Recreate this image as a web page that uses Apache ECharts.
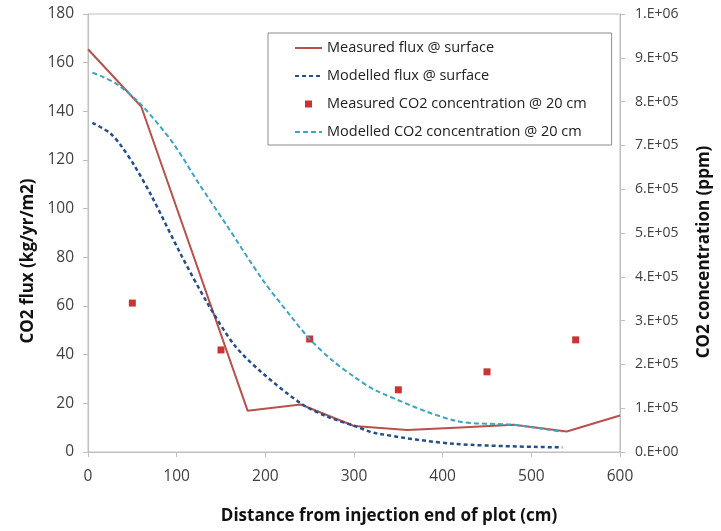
<!DOCTYPE html>
<html>
<head>
<meta charset="utf-8">
<script src="https://cdn.jsdelivr.net/npm/echarts@6/dist/echarts.min.js"></script>
<style>
  html, body { margin: 0; padding: 0; background: #fff; }
  #chart { width: 721px; height: 531px; }
</style>
</head>
<body>
<div id="chart"></div>
<script>
// measured flux at surface (kg/yr/m2)
const measFluxX = [0, 60, 180, 240, 300, 360, 420, 480, 540, 600];
const measFluxY = [165.5, 142, 17, 19.5, 10.7, 9, 10.1, 11.2, 8.4, 15];

// modelled flux at surface
const modFluxX = [5, 25, 38, 53, 72, 105, 135, 165, 195, 240, 270, 300, 325, 415, 535];
const modFluxY = [135.3, 131, 125.5, 117.3, 105, 81, 61, 44, 33, 20, 14.5, 10.8, 7.7, 3.3, 1.9];

// measured CO2 concentration @ 20 cm (ppm)
const measConcX = [50, 150, 250, 350, 450, 550];
const measConcY = [340000, 233000, 258000, 142000, 183000, 256000];

// modelled CO2 concentration @ 20 cm
const modConcX = [5, 15, 34, 60, 96, 125, 155, 197, 228, 250, 275, 300, 325, 415, 480, 535];
const modConcY = [866000, 858000, 838000, 793000, 705000, 613000, 522000, 393000, 312000, 258000, 210000, 172000, 140000, 71000, 62000, 46000];

const legendNames = [
  'Measured flux @ surface',
  'Modelled flux @ surface',
  'Measured CO2 concentration @ 20 cm',
  'Modelled CO2 concentration @ 20 cm'
];

const pairs = (xs, ys) => xs.map((x, i) => [x, ys[i]]);

const sciLabel = (v) => {
  if (v === 0) return '0.E+00';
  const exp = Math.floor(Math.log10(v) + 1e-9);
  const m = Math.round(v / Math.pow(10, exp));
  return m + '.E+' + String(exp).padStart(2, '0');
};

const FONT = 'Open Sans';
const axisGray = '#bfbfbf';
// line legend items: hide the circle drawn on top of the line icon
const noDot = { opacity: 0 };

const chart = echarts.init(document.getElementById('chart'));
chart.setOption({
  animation: false,
  textStyle: { fontFamily: FONT },
  grid: {
    left: 88, right: 100, top: 14, bottom: 79,
    show: true, borderColor: axisGray, borderWidth: 1
  },
  legend: {
    orient: 'vertical',
    left: 268, top: 33,
    padding: [7, 25, 5, 26],
    itemGap: 12,
    itemWidth: 27, itemHeight: 14,
    borderColor: '#8c8c8c', borderWidth: 1,
    textStyle: { fontFamily: FONT, fontSize: 14.5, lineHeight: 16, color: '#222' },
    data: [
      { name: legendNames[0], itemStyle: noDot },
      { name: legendNames[1], itemStyle: noDot },
      { name: legendNames[2], icon: 'path://M0,0 M27,14 M10,3.5 h7 v7 h-7 Z', itemStyle: { color: '#c00000' } },
      { name: legendNames[3], itemStyle: noDot }
    ]
  },
  xAxis: {
    type: 'value', min: 0, max: 600, interval: 100,
    name: 'Distance from injection end of plot (cm)',
    nameLocation: 'middle', nameGap: 56,
    nameTextStyle: { fontFamily: FONT, fontSize: 17, fontWeight: 'bold', color: '#111', padding: [0, 0, 0, 70] },
    axisLine: { lineStyle: { color: axisGray } },
    axisTick: { show: true, length: 5, lineStyle: { color: axisGray } },
    axisLabel: { color: '#404040', fontSize: 15.5, margin: 17 },
    splitLine: { show: false }
  },
  yAxis: [
    {
      type: 'value', min: 0, max: 180, interval: 20,
      name: 'CO2 flux (kg/yr/m2)',
      nameLocation: 'middle', nameGap: 51, nameRotate: 90,
      nameTextStyle: { fontFamily: FONT, fontSize: 17, fontWeight: 'bold', color: '#111', padding: [0, 56, 0, 0] },
      axisLine: { show: true, lineStyle: { color: axisGray } },
      axisTick: { show: true, length: 5, lineStyle: { color: axisGray } },
      axisLabel: { color: '#404040', fontSize: 15.5, margin: 14 },
      splitLine: { show: false }
    },
    {
      type: 'value', min: 0, max: 1000000, interval: 100000,
      position: 'right',
      name: 'CO2 concentration (ppm)',
      nameLocation: 'middle', nameGap: 76, nameRotate: 90,
      nameTextStyle: { fontFamily: FONT, fontSize: 17, fontWeight: 'bold', color: '#111', padding: [0, 38, 0, 0] },
      axisLine: { show: true, lineStyle: { color: axisGray } },
      axisTick: { show: true, length: 5, lineStyle: { color: axisGray } },
      axisLabel: { color: '#404040', fontSize: 14, margin: 15, formatter: sciLabel },
      splitLine: { show: false }
    }
  ],
  series: [
    {
      name: legendNames[0], type: 'line', yAxisIndex: 0,
      data: pairs(measFluxX, measFluxY),
      symbol: 'none', showSymbol: false,
      lineStyle: { color: '#b9504b', width: 2, type: 'solid' },
      itemStyle: { color: '#b9504b' }
    },
    {
      name: legendNames[1], type: 'line', yAxisIndex: 0,
      data: pairs(modFluxX, modFluxY),
      symbol: 'none', showSymbol: false, smooth: 0.3,
      lineStyle: { color: '#244f8c', width: 2.5, type: [4, 3] },
      itemStyle: { color: '#244f8c' }
    },
    {
      name: legendNames[2], type: 'scatter', yAxisIndex: 1,
      data: pairs(measConcX, measConcY),
      symbol: 'rect', symbolSize: 7,
      itemStyle: { color: '#c00000' }
    },
    {
      name: legendNames[3], type: 'line', yAxisIndex: 1,
      data: pairs(modConcX, modConcY),
      symbol: 'none', showSymbol: false, smooth: 0.3,
      lineStyle: { color: '#3aa6c2', width: 2, type: [5, 3] },
      itemStyle: { color: '#3aa6c2' }
    }
  ]
});
</script>
</body>
</html>
